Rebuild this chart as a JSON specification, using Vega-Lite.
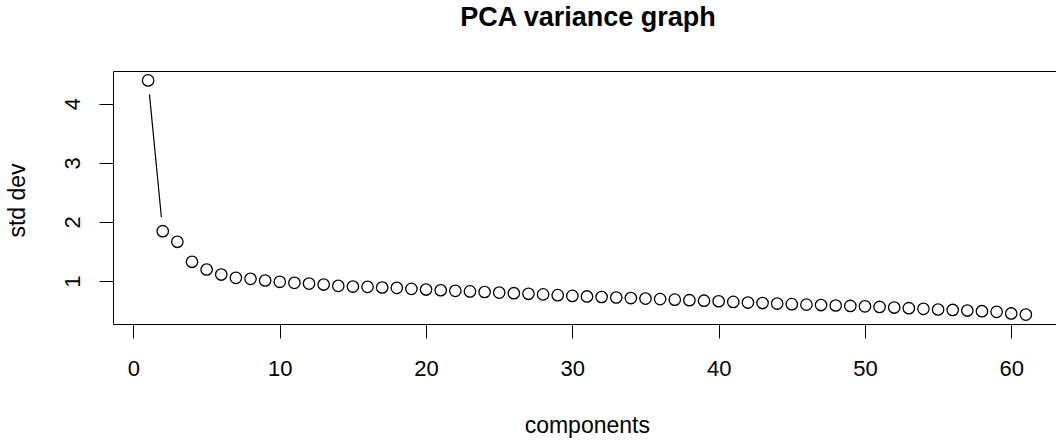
{
  "$schema": "https://vega.github.io/schema/vega-lite/v6.json",
  "autosize": {"type": "none"},
  "padding": {"left": 113, "top": 71, "right": 0, "bottom": 117},
  "width": 943,
  "height": 253,
  "background": "white",
  "config": {
    "view": {"stroke": null},
    "font": "Liberation Sans",
    "axis": {
      "grid": false,
      "labelFont": "Liberation Sans",
      "titleFont": "Liberation Sans",
      "labelColor": "black",
      "titleColor": "black",
      "tickColor": "black",
      "domainColor": "black",
      "labelFontSize": 22,
      "titleFontSize": 23,
      "titleFontWeight": "normal",
      "tickWidth": 1,
      "domainWidth": 1,
      "labelFlush": false,
      "labelOverlap": false
    }
  },
  "title": {
    "text": "PCA variance graph",
    "font": "Liberation Sans",
    "fontSize": 27,
    "fontWeight": "bold",
    "color": "black",
    "anchor": "middle",
    "frame": "group",
    "baseline": "alphabetic",
    "offset": 18,
    "dx": 3.5
  },
  "data": {
    "values": [
      {"pc": 1, "sd": 4.39},
      {"pc": 2, "sd": 1.845},
      {"pc": 3, "sd": 1.666},
      {"pc": 4, "sd": 1.328},
      {"pc": 5, "sd": 1.198},
      {"pc": 6, "sd": 1.113},
      {"pc": 7, "sd": 1.057},
      {"pc": 8, "sd": 1.04},
      {"pc": 9, "sd": 1.012},
      {"pc": 10, "sd": 0.99},
      {"pc": 11, "sd": 0.973},
      {"pc": 12, "sd": 0.96},
      {"pc": 13, "sd": 0.944},
      {"pc": 14, "sd": 0.922},
      {"pc": 15, "sd": 0.91},
      {"pc": 16, "sd": 0.905},
      {"pc": 17, "sd": 0.894},
      {"pc": 18, "sd": 0.888},
      {"pc": 19, "sd": 0.871},
      {"pc": 20, "sd": 0.86},
      {"pc": 21, "sd": 0.848},
      {"pc": 22, "sd": 0.838},
      {"pc": 23, "sd": 0.828},
      {"pc": 24, "sd": 0.818},
      {"pc": 25, "sd": 0.808},
      {"pc": 26, "sd": 0.798},
      {"pc": 27, "sd": 0.788},
      {"pc": 28, "sd": 0.778},
      {"pc": 29, "sd": 0.765},
      {"pc": 30, "sd": 0.752},
      {"pc": 31, "sd": 0.743},
      {"pc": 32, "sd": 0.734},
      {"pc": 33, "sd": 0.725},
      {"pc": 34, "sd": 0.716},
      {"pc": 35, "sd": 0.707},
      {"pc": 36, "sd": 0.698},
      {"pc": 37, "sd": 0.689},
      {"pc": 38, "sd": 0.68},
      {"pc": 39, "sd": 0.671},
      {"pc": 40, "sd": 0.662},
      {"pc": 41, "sd": 0.651},
      {"pc": 42, "sd": 0.64},
      {"pc": 43, "sd": 0.632},
      {"pc": 44, "sd": 0.623},
      {"pc": 45, "sd": 0.613},
      {"pc": 46, "sd": 0.605},
      {"pc": 47, "sd": 0.598},
      {"pc": 48, "sd": 0.59},
      {"pc": 49, "sd": 0.583},
      {"pc": 50, "sd": 0.576},
      {"pc": 51, "sd": 0.566},
      {"pc": 52, "sd": 0.556},
      {"pc": 53, "sd": 0.545},
      {"pc": 54, "sd": 0.534},
      {"pc": 55, "sd": 0.523},
      {"pc": 56, "sd": 0.515},
      {"pc": 57, "sd": 0.505},
      {"pc": 58, "sd": 0.494},
      {"pc": 59, "sd": 0.483},
      {"pc": 60, "sd": 0.456},
      {"pc": 61, "sd": 0.437}
    ]
  },
  "layer": [
    {
      "transform": [{"filter": "datum.pc <= 2"}],
      "mark": {"type": "line", "color": "black", "strokeWidth": 1.2, "strokeDash": [0, 14, 123.5, 1000], "strokeCap": "butt"},
      "encoding": {
        "x": {
          "field": "pc", "type": "quantitative",
          "scale": {"domain": [-1.4, 63.06], "nice": false, "zero": false},
          "axis": {
            "orient": "bottom",
            "values": [0, 10, 20, 30, 40, 50, 60],
            "tickSize": 14,
            "labelPadding": 37.5,
            "labelBaseline": "alphabetic",
            "labelAngle": 0,
            "title": "components",
            "titleBaseline": "alphabetic",
            "titleAlign": "center",
            "titleX": 473.8,
            "titleY": 108
          }
        },
        "y": {
          "field": "sd", "type": "quantitative",
          "scale": {"domain": [0.278, 4.549], "nice": false, "zero": false},
          "axis": {
            "orient": "left",
            "values": [1, 2, 3, 4],
            "tickSize": 14,
            "labelAngle": 270,
            "labelAlign": "center",
            "labelBaseline": "alphabetic",
            "labelPadding": 19.5,
            "title": "std dev",
            "titleAngle": 270,
            "titleAlign": "center",
            "titleBaseline": "alphabetic",
            "titleX": -88.5,
            "titleY": 129
          }
        }
      }
    },
    {
      "mark": {"type": "point", "shape": "circle", "filled": false, "stroke": "black", "strokeWidth": 1.3, "size": 130, "opacity": 1},
      "encoding": {
        "x": {
          "field": "pc", "type": "quantitative",
          "scale": {"domain": [-1.4, 63.06], "nice": false, "zero": false},
          "axis": {"orient": "top", "ticks": false, "labels": false, "title": null, "domain": true}
        },
        "y": {
          "field": "sd", "type": "quantitative",
          "scale": {"domain": [0.278, 4.549], "nice": false, "zero": false},
          "axis": {
            "orient": "left",
            "values": [1, 2, 3, 4],
            "tickSize": 14,
            "labelAngle": 270,
            "labelAlign": "center",
            "labelBaseline": "alphabetic",
            "labelPadding": 19.5,
            "title": "std dev",
            "titleAngle": 270,
            "titleAlign": "center",
            "titleBaseline": "alphabetic",
            "titleX": -88.5,
            "titleY": 129
          }
        }
      }
    }
  ],
  "resolve": {"axis": {"x": "independent"}}
}
